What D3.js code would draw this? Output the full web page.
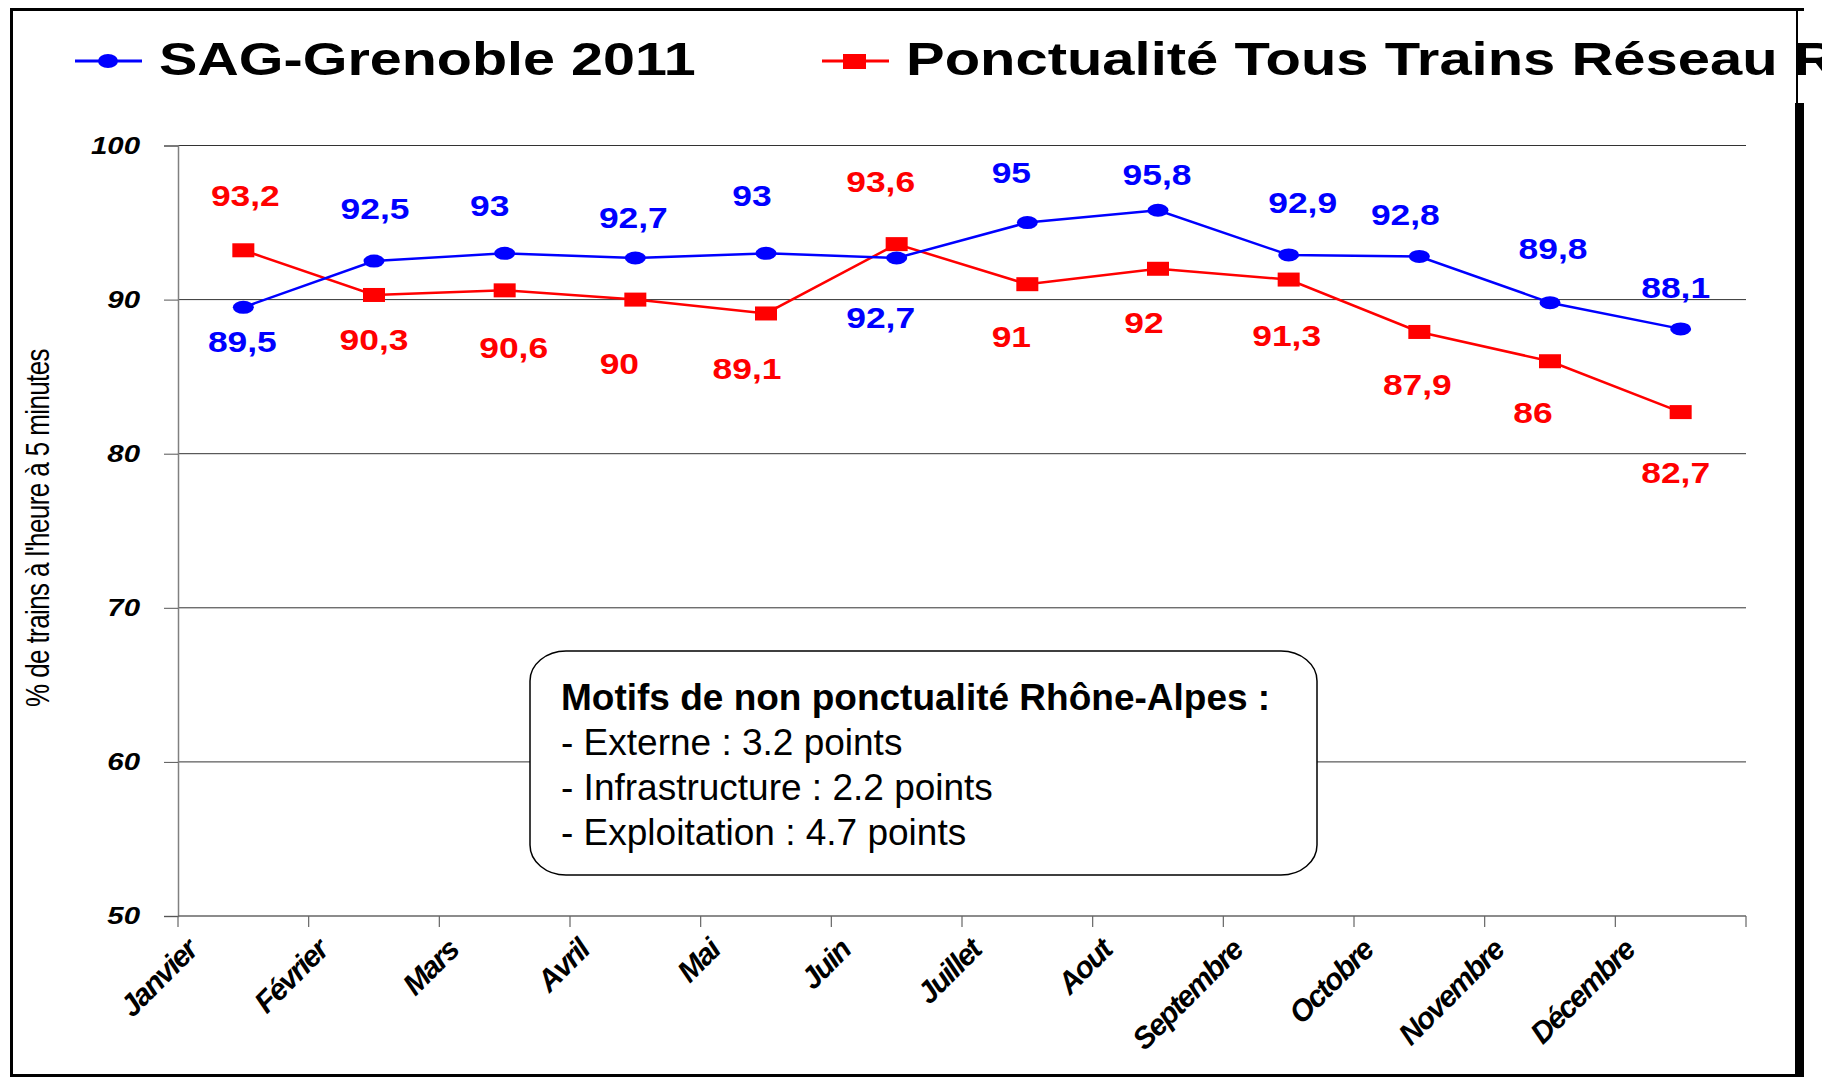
<!DOCTYPE html>
<html>
<head>
<meta charset="utf-8">
<script src="https://cdn.jsdelivr.net/npm/d3@7"></script>
<style>
  body { margin: 0; background: #fff; }
  svg { display: block; font-family: "Liberation Sans", Arial, sans-serif; }
</style>
</head>
<body>
<svg width="1822" height="1077"></svg>
<script>
// valeurs
var months = ["Janvier", "Février", "Mars", "Avril", "Mai", "Juin", "Juillet", "Aout",
              "Septembre", "Octobre", "Novembre", "Décembre"];
var sagGrenoble = [89.5, 92.5, 93, 92.7, 93, 92.7, 95, 95.8, 92.9, 92.8, 89.8, 88.1];
var tousTrains = [93.2, 90.3, 90.6, 90, 89.1, 93.6, 91, 92, 91.3, 87.9, 86, 82.7];
var yTicks = [50, 60, 70, 80, 90, 100];
var seriesNames = ["SAG-Grenoble 2011", "Ponctualité Tous Trains Réseau Rhône-Alpes"];
var yTitle = "% de trains à l'heure à 5 minutes";
var boxTitle = "Motifs de non ponctualité Rhône-Alpes :";
var boxLines = ["- Externe : 3.2 points", "- Infrastructure : 2.2 points", "- Exploitation : 4.7 points"];

// décalage des étiquettes (px) par rapport au point
var blueLabelOffset = [[-1,34],[1,-53],[-15,-48],[-2,-41],[-14,-58],[-16,59],[-16,-51],[-1,-36],[14,-53],[-14,-42],[3,-55],[-5,-42]];
var redLabelOffset = [[2,-55],[0,44],[9,57],[-16,63],[-19,55],[-16,-63],[-16,52],[-14,53],[-2,55],[-2,52],[-17,51],[-5,60]];

var svg = d3.select("svg");
var BLUE = "#0000ff", RED = "#ff0000";

var x = d3.scaleBand().domain(months).range([178, 1746]);
var y = d3.scaleLinear().domain([50, 100]).range([916, 145.5]);
var cx = function(i) { return x(months[i]) + x.bandwidth() / 2; };
var fmt = function(v) { return String(v).replace(".", ","); };

// texte étiré horizontalement (le graphique d'origine est élargi)
function stretchedText(g, tx, ty, sx, str) {
  return g.append("text")
    .attr("transform", "translate(" + tx + "," + ty + ") scale(" + sx + ",1)")
    .text(str);
}

svg.append("rect").attr("width", 1822).attr("height", 1077).attr("fill", "#fff");

// grille
svg.append("g").selectAll("line")
  .data(yTicks.filter(function(d) { return d > 50; }))
  .enter().append("line")
    .attr("x1", 178).attr("x2", 1746)
    .attr("y1", function(d) { return y(d); })
    .attr("y2", function(d) { return y(d); })
    .attr("stroke", "#333").attr("stroke-width", 1);

// axe Y
var yAxis = svg.append("g")
    .attr("transform", "translate(178,0)")
    .call(d3.axisLeft(y).tickValues(yTicks).tickSize(14).tickFormat(""));
yAxis.select(".domain").attr("stroke", "#808080").attr("stroke-width", 1.5);
yAxis.selectAll(".tick line").attr("stroke", "#555");

var yLab = svg.append("g")
    .attr("font-weight", "bold").attr("font-style", "italic")
    .attr("font-size", 23).attr("text-anchor", "end");
yTicks.forEach(function(t) {
  stretchedText(yLab, 140, y(t) + 8, 1.28, t);
});

// axe X
var xEdges = months.map(function(m) { return x(m); }).concat([x.range()[1]]);
var xAxis = svg.append("g");
xAxis.append("line")
  .attr("x1", 178).attr("x2", 1746).attr("y1", 916).attr("y2", 916)
  .attr("stroke", "#666").attr("stroke-width", 1.5);
xAxis.selectAll(".xt").data(xEdges).enter().append("line")
  .attr("x1", function(d) { return d; }).attr("x2", function(d) { return d; })
  .attr("y1", 916).attr("y2", 927)
  .attr("stroke", "#666").attr("stroke-width", 1.2);

xAxis.selectAll(".xl").data(months).enter().append("text")
  .attr("transform", function(d) { return "translate(" + (x(d) + 21) + ",952) rotate(-45)"; })
  .attr("text-anchor", "end")
  .attr("font-size", 30).attr("font-weight", "bold").attr("font-style", "italic")
  .attr("letter-spacing", -1.6)
  .text(function(d) { return d; });

// titre axe Y
svg.append("text")
  .attr("transform", "translate(49,528) scale(1.25,1) rotate(-90)")
  .attr("text-anchor", "middle")
  .attr("font-size", 26).attr("letter-spacing", -0.6)
  .text(yTitle);

// encadré
svg.append("rect")
  .attr("x", 530).attr("y", 651).attr("width", 787).attr("height", 224)
  .attr("rx", 36).attr("ry", 30)
  .attr("fill", "#fff").attr("stroke", "#000").attr("stroke-width", 1.5);
svg.append("text").attr("x", 561).attr("y", 710)
  .attr("font-size", 37).attr("font-weight", "bold").text(boxTitle);
svg.selectAll(".bl").data(boxLines).enter().append("text")
  .attr("x", 561).attr("y", function(d, i) { return 755 + i * 45; })
  .attr("font-size", 37).text(function(d) { return d; });

// courbes
var line = d3.line()
  .x(function(d, i) { return cx(i); })
  .y(function(d) { return y(d); });

svg.append("path").datum(tousTrains).attr("d", line)
  .attr("fill", "none").attr("stroke", RED).attr("stroke-width", 2.5);
svg.append("path").datum(sagGrenoble).attr("d", line)
  .attr("fill", "none").attr("stroke", BLUE).attr("stroke-width", 2.5);

svg.append("g").selectAll("rect").data(tousTrains).enter().append("rect")
  .attr("x", function(d, i) { return cx(i) - 11; })
  .attr("y", function(d) { return y(d) - 7; })
  .attr("width", 22).attr("height", 14).attr("fill", RED);
svg.append("g").selectAll("ellipse").data(sagGrenoble).enter().append("ellipse")
  .attr("cx", function(d, i) { return cx(i); })
  .attr("cy", function(d) { return y(d); })
  .attr("rx", 10.5).attr("ry", 6.5).attr("fill", BLUE);

// étiquettes de valeurs
var lab = svg.append("g").attr("font-weight", "bold").attr("font-size", 30).attr("text-anchor", "middle");
tousTrains.forEach(function(v, i) {
  stretchedText(lab, cx(i) + redLabelOffset[i][0], y(v) + redLabelOffset[i][1] + 11, 1.18, fmt(v))
    .attr("fill", RED);
});
sagGrenoble.forEach(function(v, i) {
  stretchedText(lab, cx(i) + blueLabelOffset[i][0], y(v) + blueLabelOffset[i][1] + 11, 1.18, fmt(v))
    .attr("fill", BLUE);
});

// légende
var leg = svg.append("g");
leg.append("line").attr("x1", 75).attr("x2", 142).attr("y1", 61).attr("y2", 61)
  .attr("stroke", BLUE).attr("stroke-width", 3);
leg.append("ellipse").attr("cx", 108).attr("cy", 61).attr("rx", 10).attr("ry", 7).attr("fill", BLUE);
leg.append("line").attr("x1", 822).attr("x2", 889).attr("y1", 61).attr("y2", 61)
  .attr("stroke", RED).attr("stroke-width", 3);
leg.append("rect").attr("x", 843).attr("y", 54).attr("width", 23).attr("height", 15).attr("fill", RED);
var legText = leg.append("g").attr("font-size", 46).attr("font-weight", "bold");
stretchedText(legText, 159, 75, 1.25, seriesNames[0]);
stretchedText(legText, 906, 75, 1.26, seriesNames[1]);

// cadre
var frame = svg.append("g").attr("fill", "#000");
frame.append("rect").attr("x", 10).attr("y", 8).attr("width", 1794).attr("height", 3);
frame.append("rect").attr("x", 10).attr("y", 8).attr("width", 3).attr("height", 1069);
frame.append("rect").attr("x", 10).attr("y", 1074).attr("width", 1787).attr("height", 3);
frame.append("rect").attr("x", 1796).attr("y", 8).attr("width", 2).attr("height", 96);
frame.append("rect").attr("x", 1795).attr("y", 103).attr("width", 9).attr("height", 974);
</script>
</body>
</html>
